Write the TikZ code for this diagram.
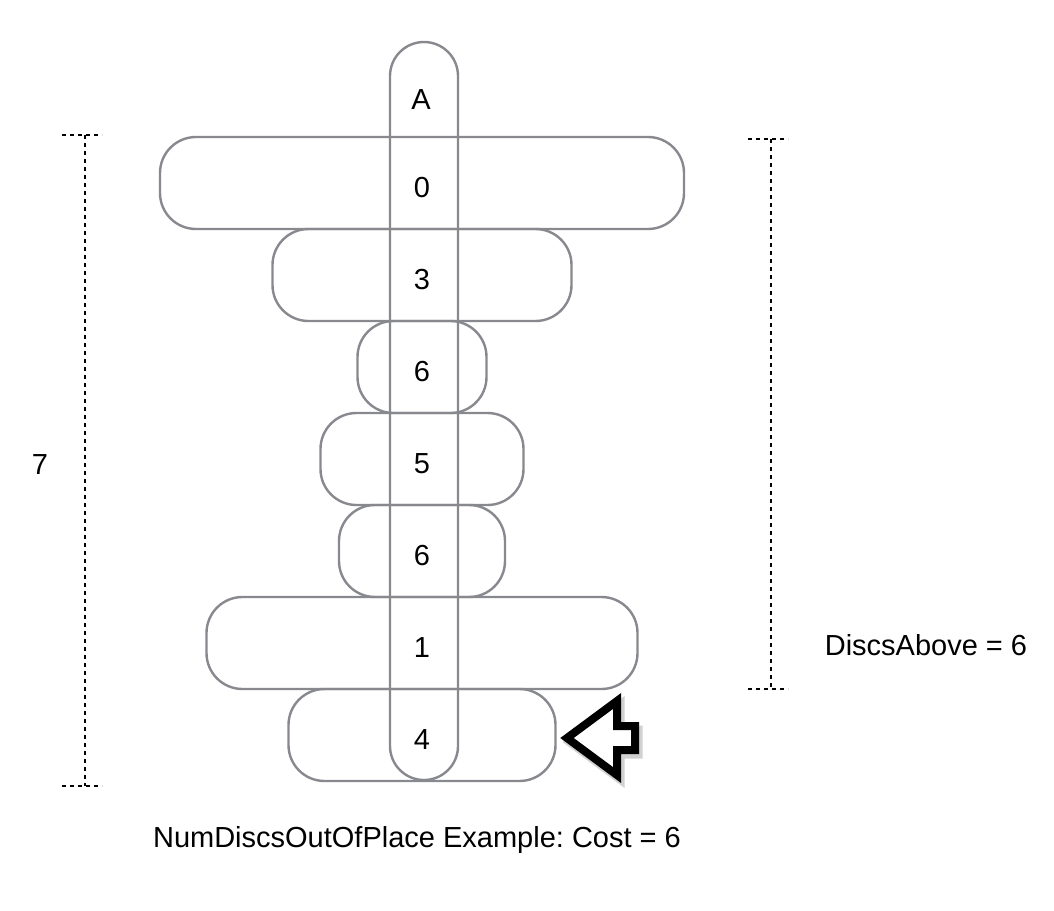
\documentclass[tikz,border=0pt]{standalone}
\usepackage{fontspec}
\setmainfont{Liberation Sans}
\usepackage{xcolor}
\usepackage{tikz}
\usetikzlibrary{shapes.geometric, arrows, positioning, shadows, calc}
\frenchspacing
\definecolor{discgray}{HTML}{88898E}
\tikzstyle{disc} = [rectangle, rounded corners=36pt, minimum height=92pt, inner sep=0pt, outer sep=0pt, text height=29pt, text depth=0pt, draw=discgray, line width=2.4pt, text centered]
\tikzstyle{rodbox} = [rectangle, rounded corners=34pt, minimum width=68pt, minimum height=738pt, inner sep=0pt, draw=discgray, line width=2.4pt]
\tikzstyle{measure} = [line width=1.6pt, dash pattern=on 4pt off 4pt]
\tikzstyle{pointer} = [line width=8pt, line join=miter, draw=black, fill=white]
\tikzstyle{pointershade} = [line width=9pt, line join=miter, draw=black!30, opacity=0.6]
\newcommand{\pointerpath}{(567,738) -- (617,701) -- (617,726) -- (635,726) -- (635,750) -- (617,750) -- (617,775) -- cycle}
\begin{document}
\begin{tikzpicture}[x=1pt, y=-1pt, font=\fontsize{29}{34}\selectfont]
    \useasboundingbox (0,0) rectangle (1054,910);
    % Discs
    \node[disc, minimum width=524pt] (d0) at (422,183) {0};
    \node[disc, minimum width=299pt, below=0pt of d0] (d3) {3};
    \node[disc, minimum width=129pt, below=0pt of d3] (d6a) {6};
    \node[disc, minimum width=203pt, below=0pt of d6a] (d5) {5};
    \node[disc, minimum width=166pt, below=0pt of d5] (d6b) {6};
    \node[disc, minimum width=431pt, below=0pt of d6b] (d1) {1};
    \node[disc, minimum width=267pt, below=0pt of d1] (d4) {4};
    % Rod
    \node[rodbox] (rod) at (424,411) {};
    \node (lblA) at (421,100) {A};

    % Measures
    \coordinate (lt) at (85,135);
    \coordinate (lb) at (85,786);
    \draw[measure] (lt) -- (lb);
    \draw[measure] ($(lt)+(-23,0)$) -- ($(lt)+(17,0)$);
    \draw[measure] ($(lb)+(-23,0)$) -- ($(lb)+(17,0)$);
    \node (seven) at (40,465) {7};

    \coordinate (rt) at (771,139);
    \coordinate (rb) at (771,689);
    \draw[measure] (rt) -- (rb);
    \draw[measure] ($(rt)+(-23,0)$) -- ($(rt)+(17,0)$);
    \draw[measure] ($(rb)+(-23,0)$) -- ($(rb)+(17,0)$);
    \node (above) at (926,645) {DiscsAbove = 6};

    % Pointer
    \draw[pointershade, shift={(3,4)}] \pointerpath;
    \draw[pointer] \pointerpath;

    % Caption
    \node (caption) at (417,840) {NumDiscsOutOfPlace Example: Cost = 6};
\end{tikzpicture}
\end{document}
